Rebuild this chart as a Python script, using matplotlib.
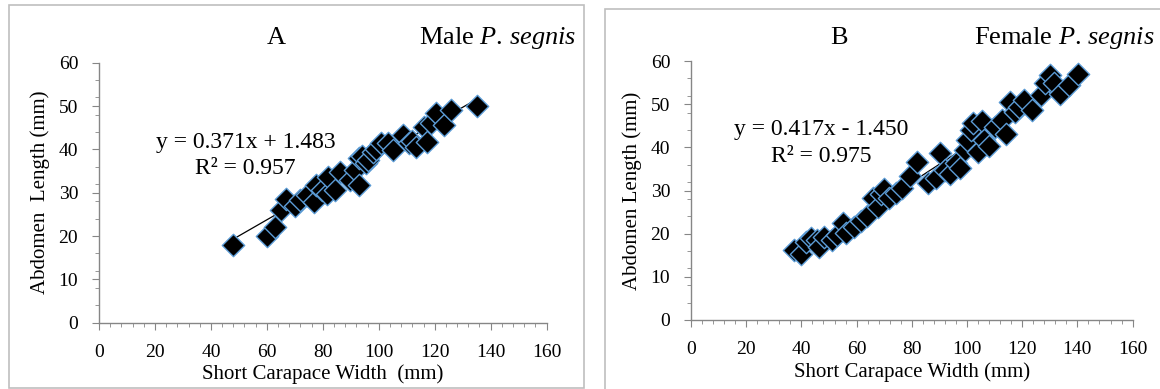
import matplotlib
matplotlib.use('Agg')
import matplotlib.pyplot as plt
from matplotlib.patches import Rectangle
from matplotlib.ticker import MultipleLocator
import numpy as np

plt.rcParams['font.family'] = ['Liberation Serif', 'DejaVu Serif']
plt.rcParams['mathtext.fontset'] = 'custom'
plt.rcParams['mathtext.rm'] = 'Liberation Serif'
plt.rcParams['mathtext.it'] = 'Liberation Serif:italic'

# male P. segnis: short carapace width vs abdomen length (mm)
male_width = [48, 60, 63, 65, 67, 70, 71.7, 74.4, 76.8, 77.4, 79.7, 81.6, 82, 84.3,
              86.3, 89.6, 91.5, 92.9, 93, 94, 95.5, 96, 98, 99, 100.8, 103.4, 105,
              108.7, 110.7, 112, 113.3, 116, 117.3, 118.6, 120.6, 123.3, 125.9, 135]
male_length = [18, 20, 22, 26, 28.5, 27, 28.3, 29.5, 27.9, 31.8, 30.6, 29.8, 33.7, 30.6,
               34.8, 32.9, 35.2, 31.8, 37.9, 38.5, 36.8, 37.5, 39.5, 40, 41.4, 41.4, 39.8,
               43.3, 41.4, 42, 40.6, 45.2, 41.8, 46, 48.3, 45.6, 49.1, 50]

# female P. segnis
female_width = [37.3, 40, 41.6, 43.6, 45.6, 46.3, 48.3, 51, 53, 55, 56.1, 59, 61.7, 63.8,
                65.8, 67.8, 68.7, 70.1, 71.8, 74.1, 76.5, 79.2, 81.9, 85.9, 88.6, 90.2,
                91.9, 94, 96, 97.3, 99.3, 100, 101.3, 102, 104, 105.4, 106, 108, 110.1,
                112.8, 114, 115.4, 117.4, 118.8, 120.8, 123.5, 126.8, 128.2, 130.2,
                131.5, 133.6, 136.9, 140.3]
female_length = [16.2, 15.4, 18.1, 19.1, 18.5, 17, 19.3, 18.5, 19.7, 22.5, 20.1, 21.6, 23,
                 24.2, 28.2, 26.1, 29.2, 30.3, 28.2, 29.5, 30.5, 33.4, 36.5, 31.8, 32.9,
                 38.6, 34.7, 33.9, 36.3, 35.1, 39.4, 41.7, 44, 45.6, 39, 46, 41.7, 40.2,
                 44.8, 46.3, 43.2, 50.6, 48.1, 49.4, 51, 48.6, 52.1, 54.8, 56.7, 55,
                 52.4, 54.4, 56.9]

male_fit = (0.371, 1.483, 0.957)
female_fit = (0.417, -1.450, 0.975)

W, H = 1160, 389
fig = plt.figure(figsize=(W / 100, H / 100), dpi=100)

AXIS_GRAY = '#868686'
EDGE_BLUE = '#5B9BD5'


def px(x, y):
    return x / W, 1 - y / H


# panel frames
for x0, y0, x1, y1 in [(9, 5, 584, 388), (605, 9.5, 1175, 400)]:
    fig.patches.append(Rectangle(px(x0, y1), (x1 - x0) / W, (y1 - y0) / H,
                                 transform=fig.transFigure, fill=False,
                                 edgecolor='#BFBFBF', linewidth=1.2))


def panel(rect, xs, ys, fit, xlabel, ylabel):
    ax = fig.add_axes(rect)
    ax.scatter(xs, ys, marker='D', s=130, c='black', edgecolors=EDGE_BLUE,
               linewidths=1.0, zorder=3)
    slope, icept, r2 = fit
    xl = np.array([min(xs), max(xs)])
    ax.plot(xl, slope * xl + icept, color='black', linewidth=0.9, zorder=2)
    ax.set_xlim(0, 160)
    ax.set_ylim(0, 60)
    ax.xaxis.set_major_locator(MultipleLocator(20))
    ax.xaxis.set_minor_locator(MultipleLocator(4))
    ax.yaxis.set_major_locator(MultipleLocator(10))
    ax.yaxis.set_minor_locator(MultipleLocator(4))
    for s in ['top', 'right']:
        ax.spines[s].set_visible(False)
    for s in ['left', 'bottom']:
        ax.spines[s].set_color(AXIS_GRAY)
        ax.spines[s].set_linewidth(1.0)
    ax.tick_params(which='major', direction='out', length=5, color=AXIS_GRAY,
                   labelsize=14, pad=10)
    ax.tick_params(which='minor', direction='out', length=3, color=AXIS_GRAY)
    ax.set_xlabel(xlabel, fontsize=15, labelpad=3)
    ax.set_ylabel(ylabel, fontsize=15, labelpad=6)
    sign = '+' if icept >= 0 else '-'
    eq = 'y = %.3fx %s %.3f' % (slope, sign, abs(icept))
    r2txt = 'R² = %.3f' % r2
    return ax, eq, r2txt


axA, eqA, r2A = panel([99 / W, 1 - 322.7 / H, (546.6 - 99) / W, 260 / H],
                      male_width, male_length, male_fit,
                      'Short Carapace Width  (mm)', 'Abdomen  Length (mm)')
axB, eqB, r2B = panel([691 / W, 1 - 320 / H, (1132.6 - 691) / W, 259 / H],
                      female_width, female_length, female_fit,
                      'Short Carapace Width (mm)', 'Abdomen Length (mm)')

fig.text(*px(246, 142), eqA, fontsize=17, ha='center', va='center')
fig.text(*px(245, 168), r2A, fontsize=17, ha='center', va='center')
fig.text(*px(821, 130), eqB, fontsize=17, ha='center', va='center')
fig.text(*px(821, 156), r2B, fontsize=17, ha='center', va='center')

fig.text(*px(276, 38), 'A', fontsize=19, ha='center', va='center')
fig.text(*px(839, 38), 'B', fontsize=19, ha='center', va='center')
fig.text(*px(576, 38), r'Male $\mathit{P}$. $\mathit{segnis}$', fontsize=19,
         ha='right', va='center')
fig.text(*px(1155, 38), r'Female $\mathit{P}$. $\mathit{segnis}$', fontsize=19,
         ha='right', va='center')

fig.savefig('out.png', dpi=100)
